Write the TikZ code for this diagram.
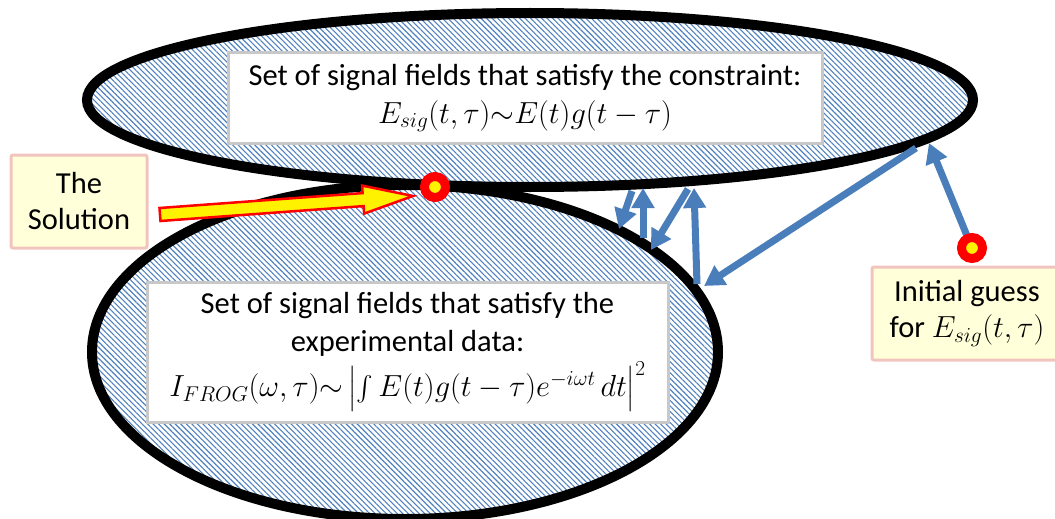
\documentclass[tikz,border=0pt]{standalone}
\usepackage{fix-cm}
\usepackage{exscale}
\usepackage{fontspec}
\setmainfont{Carlito}
\usetikzlibrary{arrows.meta,patterns.meta}
\definecolor{hatchblue}{RGB}{79,129,189}
\definecolor{arrowblue}{RGB}{74,126,187}
\definecolor{calloutfill}{RGB}{255,255,217}
\definecolor{calloutborder}{RGB}{242,196,190}
\definecolor{boxgray}{RGB}{200,200,200}
\tikzset{
  setellipse/.style={draw=black, line width=10pt, pattern={Lines[angle=-45,distance=3.9pt,line width=1.1pt]}, pattern color=hatchblue},
  textbox/.style={draw=boxgray, line width=3pt, fill=white, align=center, inner sep=0pt, font=\fontsize{30.5}{38}\selectfont},
  callout/.style={draw=calloutborder, fill=calloutfill, line width=3pt, rounded corners=2pt, align=center, inner sep=0pt, font=\fontsize{30.5}{36}\selectfont},
  reddot/.style={circle, draw=red, fill=yellow, line width=9pt, minimum size=21pt, inner sep=0pt},
  bluearrow/.style={draw=arrowblue, line width=7pt, -{Triangle[length=20pt,width=22pt]}},
  bigarrow/.style={draw=red, fill=yellow, line width=2.5pt, line join=miter}
}
\begin{document}
\begin{tikzpicture}[x=1pt,y=-1pt]
\useasboundingbox (0,0) rectangle (1055,519);
% sets
\path[setellipse] (405,352) ellipse [x radius=313, y radius=167];
\path[setellipse] (530,100) ellipse [x radius=443, y radius=87];
% text boxes
\node[textbox, minimum width=594pt, minimum height=90pt] (topbox) at (525,98)
  {Set of signal fields that satisfy the constraint:\\ $E_{sig}(t,\tau){\sim}E(t)g(t-\tau)$};
\node[textbox, minimum width=521pt, minimum height=140pt] (botbox) at (407.5,352)
  {Set of signal fields that satisfy the\\ experimental data:\\[4pt] $I_{FROG}(\omega,\tau){\sim}\left|\int E(t)g(t-\tau)e^{-i\omega t}\,dt\right|^2$};
% callouts
\node[callout, minimum width=136pt, minimum height=93pt] (solbox) at (79,201.5) {The\\Solution};
\node[callout, minimum width=190pt, minimum height=93pt] (initbox) at (967,313.5) {Initial guess\\for $E_{sig}(t,\tau)$};
% arrow coordinates
\coordinate (a1s) at (632,191); \coordinate (a1e) at (619,229);
\coordinate (a2s) at (643,238); \coordinate (a2e) at (643,188);
\coordinate (a3s) at (688,189); \coordinate (a3e) at (651,250);
\coordinate (a4s) at (697,284); \coordinate (a4e) at (694,188);
\coordinate (a5s) at (916,148); \coordinate (a5e) at (704,286);
\coordinate (a6e) at (929,143);
\coordinate (initc) at (972,248);
\coordinate (solc) at (435,187);
\draw[bluearrow] (a1s) -- (a1e);
\draw[bluearrow] (a2s) -- (a2e);
\draw[bluearrow] (a3s) -- (a3e);
\draw[bluearrow] (a4s) -- (a4e);
\draw[bluearrow] (a5s) -- (a5e);
\draw[bluearrow] (initc) -- (a6e);
% solution arrow
\filldraw[bigarrow] (159.5,208.0) -- (362.6,193.1) -- (362.1,185.6) -- (413,196) -- (364.1,213.6) -- (363.6,206.1) -- (160.5,221.0) -- cycle;
% dots
\node[reddot] (soldot) at (solc) {};
\node[reddot] (initdot) at (initc) {};
\end{tikzpicture}
\end{document}
